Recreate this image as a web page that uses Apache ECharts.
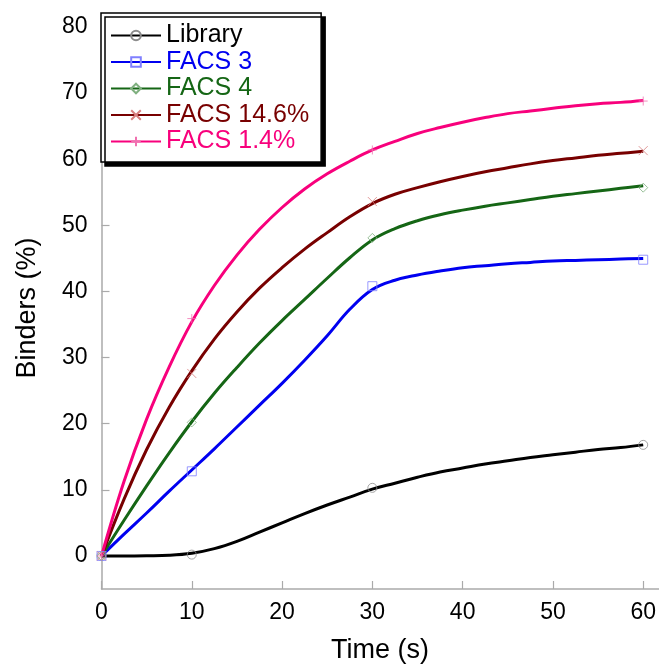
<!DOCTYPE html>
<html>
<head>
<meta charset="utf-8">
<title>Binders vs time</title>
<script src="https://cdn.jsdelivr.net/npm/echarts@6/dist/echarts.min.js"></script>
<style>
  html, body { margin: 0; padding: 0; background: #fff; }
  #main { width: 659px; height: 669px; }
</style>
</head>
<body>
<div id="main"></div>
<script type="text/javascript">
// time points (s)
var times = [0, 2.5, 5, 7.5, 10, 12.5, 15, 17.5, 20, 22.5, 25, 27.5, 30,
             32.5, 35, 37.5, 40, 42.5, 45, 47.5, 50, 52.5, 55, 57.5, 60];
// measured points (markers)
var markerTimes = [0, 10, 30, 60];

var names = ['Library', 'FACS 3', 'FACS 4', 'FACS 14.6%', 'FACS 1.4%'];

// fitted curves
var library = [0, 0, 0.03, 0.1, 0.4, 1.1, 2.2, 3.6, 5.0, 6.4, 7.7, 8.9, 10.1,
               11.0, 11.9, 12.7, 13.3, 13.9, 14.4, 14.9, 15.3, 15.7, 16.1, 16.4, 16.8];
var facs3 = [0, 3.3, 6.5, 9.8, 13.0, 16.2, 19.5, 22.8, 26.1, 29.6, 33.3, 37.3, 40.3,
             41.7, 42.5, 43.1, 43.6, 43.9, 44.2, 44.4, 44.6, 44.7, 44.8, 44.9, 45.0];
var facs4 = [0, 5.4, 10.6, 15.6, 20.3, 24.6, 28.5, 32.2, 35.6, 38.8, 42.0, 45.1, 47.8,
             49.5, 50.7, 51.6, 52.3, 52.9, 53.4, 53.9, 54.4, 54.8, 55.2, 55.6, 56.0];
var facs146 = [0, 8.6, 16.1, 22.5, 28.0, 32.8, 36.9, 40.5, 43.6, 46.4, 48.9, 51.3, 53.3,
               54.7, 55.7, 56.6, 57.4, 58.1, 58.7, 59.3, 59.8, 60.2, 60.6, 60.9, 61.2];
var facs14 = [0, 11.3, 20.7, 28.6, 35.4, 40.9, 45.5, 49.4, 52.7, 55.5, 57.8, 59.7, 61.4,
              62.7, 63.9, 64.8, 65.6, 66.3, 66.9, 67.3, 67.7, 68.1, 68.4, 68.6, 68.9];

// measured values at markerTimes
var libraryPts = [0, 0.2, 10.3, 16.8];
var facs3Pts = [0, 12.8, 40.8, 44.8];
var facs4Pts = [0, 20.2, 48.1, 55.7];
var facs146Pts = [0, 27.6, 53.6, 61.3];
var facs14Pts = [0, 35.9, 61.4, 68.8];

var curves = [library, facs3, facs4, facs146, facs14];
var points = [libraryPts, facs3Pts, facs4Pts, facs146Pts, facs14Pts];
var lineColors = ['#000000', '#0000f0', '#156615', '#780000', '#f8007c'];
var markColors = ['#8c8c8c', '#8080ff', '#7fb07f', '#d88080', '#f070b0'];
var symbols = ['circle', 'rect', 'diamond', 'path://M0,0L10,10M10,0L0,10', 'path://M5,0L5,10M0,5L10,5'];

var xTicks = [0, 10, 20, 30, 40, 50, 60];
var yTicks = [0, 10, 20, 30, 40, 50, 60, 70, 80];

var font = 'Liberation Sans, Arial, sans-serif';
var axisGray = '#aaaaaa';

var myChart = echarts.init(document.getElementById('main'));

var series = [];
names.forEach(function (name, i) {
    var markStyle = { color: 'rgba(255,255,255,0)', borderColor: markColors[i], borderWidth: 1 };
    series.push({
        name: name,
        type: 'line',
        data: times.map(function (t, j) { return [t, curves[i][j]]; }),
        smooth: 0.4,
        symbol: symbols[i],
        symbolSize: 9,
        showSymbol: false,
        lineStyle: { color: lineColors[i], width: 3 },
        itemStyle: markStyle,
        emphasis: { disabled: true },
        z: 2 + i
    });
});
names.forEach(function (name, i) {
    series.push({
        name: name,
        type: 'scatter',
        data: markerTimes.map(function (t, j) { return [t, points[i][j]]; }),
        symbol: symbols[i],
        symbolSize: 9,
        itemStyle: { color: 'rgba(255,255,255,0)', borderColor: markColors[i], borderWidth: 1 },
        emphasis: { disabled: true },
        z: 10
    });
});

var option = {
    animation: false,
    grid: { left: 101.5, right: 0, top: 27, bottom: 79 },
    legend: {
        left: 101,
        top: 13,
        orient: 'vertical',
        padding: [10, 12, 8, 9],
        itemGap: 1.5,
        itemWidth: 50,
        itemHeight: 12,
        itemTextGap: 6,
        backgroundColor: '#ffffff',
        borderColor: '#000000',
        borderWidth: 1.5,
        shadowColor: '#000000',
        shadowOffsetX: 4,
        shadowOffsetY: 4,
        shadowBlur: 0.01,
        selectedMode: false,
        textStyle: { fontFamily: font, fontSize: 25, lineHeight: 25 },
        data: names.map(function (n, i) {
            return { name: n, textStyle: { color: lineColors[i] } };
        })
    },
    xAxis: {
        type: 'value',
        min: 0,
        max: 61.7,
        name: 'Time (s)',
        nameLocation: 'middle',
        nameGap: 48,
        nameTextStyle: { fontFamily: font, fontSize: 27, color: '#000' },
        axisLine: { show: true, onZero: false, lineStyle: { color: axisGray, width: 1.5 } },
        axisTick: { show: true, inside: true, length: 8, customValues: xTicks, lineStyle: { color: axisGray, width: 1.2 } },
        axisLabel: { customValues: xTicks, margin: 12, fontFamily: font, fontSize: 23, color: '#000' },
        splitLine: { show: false }
    },
    yAxis: {
        type: 'value',
        min: -5,
        max: 80,
        name: 'Binders (%)',
        nameLocation: 'middle',
        nameRotate: 90,
        nameGap: 60,
        nameTextStyle: { fontFamily: font, fontSize: 27, color: '#000' },
        axisLine: { show: true, onZero: false, lineStyle: { color: axisGray, width: 1.5 } },
        axisTick: { show: true, inside: true, length: 8, customValues: yTicks, lineStyle: { color: axisGray, width: 1.2 } },
        axisLabel: { customValues: yTicks, margin: 14, fontFamily: font, fontSize: 23, color: '#000' },
        splitLine: { show: false }
    },
    series: series
};

myChart.setOption(option);
</script>
</body>
</html>
